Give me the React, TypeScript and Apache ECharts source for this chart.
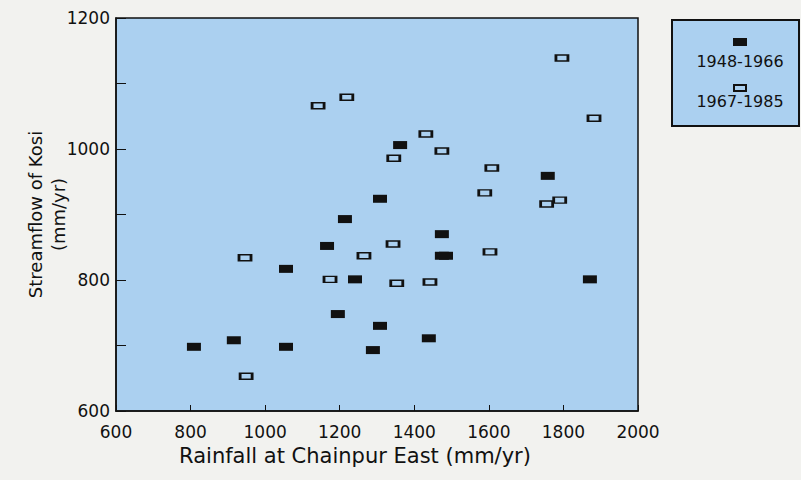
import React, { useEffect, useRef } from "react";
import * as echarts from "echarts";

// Annual rainfall at Chainpur East (mm/yr) vs. streamflow of the Kosi (mm/yr)
const period1Label = "1948-1966";
const period2Label = "1967-1985";

const period1: [number, number][] = [
  [809, 698], [916, 708], [1056, 698], [1056, 817], [1166, 852],
  [1214, 893], [1195, 748], [1241, 801], [1308, 924], [1308, 730],
  [1289, 693], [1362, 1006], [1474, 870], [1474, 837], [1485, 837],
  [1439, 711], [1758, 959], [1871, 801],
];

const period2: [number, number][] = [
  [1796, 1139], [1882, 1047], [1431, 1023], [1345, 986], [1474, 997],
  [1608, 971], [1589, 933], [1755, 916], [1790, 922], [1142, 1066],
  [1219, 1079], [946, 834], [1265, 837], [1343, 855], [1174, 801],
  [1353, 795], [1442, 797], [1603, 843], [949, 653],
];

const xTitle = "Rainfall at Chainpur East (mm/yr)";
const yTitle = "Streamflow of Kosi\n(mm/yr)";

const PLOT_BG = "#abd0f0";
const INK = "#111111";
const FONT = "DejaVu Sans";

export default function App() {
  const ref = useRef<HTMLDivElement>(null);

  useEffect(() => {
    document.body.style.margin = "0";
    const chart = echarts.init(ref.current!, undefined, { renderer: "svg" });

    chart.setOption({
      animation: false,
      backgroundColor: "#f2f2ef",
      grid: {
        left: 116,
        top: 18,
        width: 522,
        height: 393,
        show: true,
        backgroundColor: PLOT_BG,
        borderColor: INK,
        borderWidth: 1.5,
      },
      xAxis: {
        type: "value",
        min: 600,
        max: 2000,
        interval: 200,
        name: xTitle,
        nameLocation: "middle",
        nameGap: 34,
        nameMoveOverlap: false,
        nameTextStyle: { fontFamily: FONT, fontSize: 21, color: INK, padding: [0, 44, 0, 0] },
        axisLine: { show: true, lineStyle: { color: INK, width: 1.5 } },
        axisTick: { show: true, inside: true, length: 6, lineStyle: { color: INK } },
        axisLabel: {
          fontFamily: FONT,
          fontSize: 17,
          color: INK,
          margin: 12,
          formatter: (v: number) => String(v),
        },
        splitLine: { show: false },
      },
      yAxis: {
        type: "value",
        min: 600,
        max: 1200,
        interval: 100,
        name: yTitle,
        nameLocation: "middle",
        nameGap: 46,
        nameMoveOverlap: false,
        nameTextStyle: { fontFamily: FONT, fontSize: 18, color: INK, lineHeight: 23 },
        axisLine: { show: true, lineStyle: { color: INK, width: 1.5 } },
        axisTick: { show: true, inside: true, length: 10, lineStyle: { color: INK } },
        axisLabel: {
          fontFamily: FONT,
          fontSize: 17,
          color: INK,
          margin: 6,
          formatter: (v: number) => (v % 200 === 0 ? String(v) : ""),
        },
        splitLine: { show: false },
      },
      series: [
        {
          name: period1Label,
          type: "scatter",
          symbol: "rect",
          symbolSize: [14, 8],
          data: period1,
          itemStyle: { color: INK, opacity: 1 },
        },
        {
          name: period2Label,
          type: "scatter",
          symbol: "rect",
          symbolSize: [12, 6],
          data: period2,
          itemStyle: { color: PLOT_BG, borderColor: INK, borderWidth: 2, opacity: 1 },
        },
      ],
      graphic: [
        {
          type: "rect",
          shape: { x: 672, y: 20, width: 127, height: 106 },
          style: { fill: PLOT_BG, stroke: INK, lineWidth: 2 },
        },
        {
          type: "rect",
          shape: { x: 733, y: 38, width: 14, height: 8 },
          style: { fill: INK },
        },
        {
          type: "text",
          x: 740,
          y: 61,
          style: {
            text: period1Label,
            fontFamily: FONT,
            fontSize: 16,
            fill: INK,
            align: "center",
            verticalAlign: "middle",
          },
        },
        {
          type: "rect",
          shape: { x: 734, y: 85, width: 12, height: 6 },
          style: { fill: PLOT_BG, stroke: INK, lineWidth: 2 },
        },
        {
          type: "text",
          x: 740,
          y: 101,
          style: {
            text: period2Label,
            fontFamily: FONT,
            fontSize: 16,
            fill: INK,
            align: "center",
            verticalAlign: "middle",
          },
        },
      ],
    });

    return () => chart.dispose();
  }, []);

  return (
    <div
      ref={ref}
      style={{ position: "absolute", left: 0, top: 0, width: 801, height: 480 }}
    />
  );
}
